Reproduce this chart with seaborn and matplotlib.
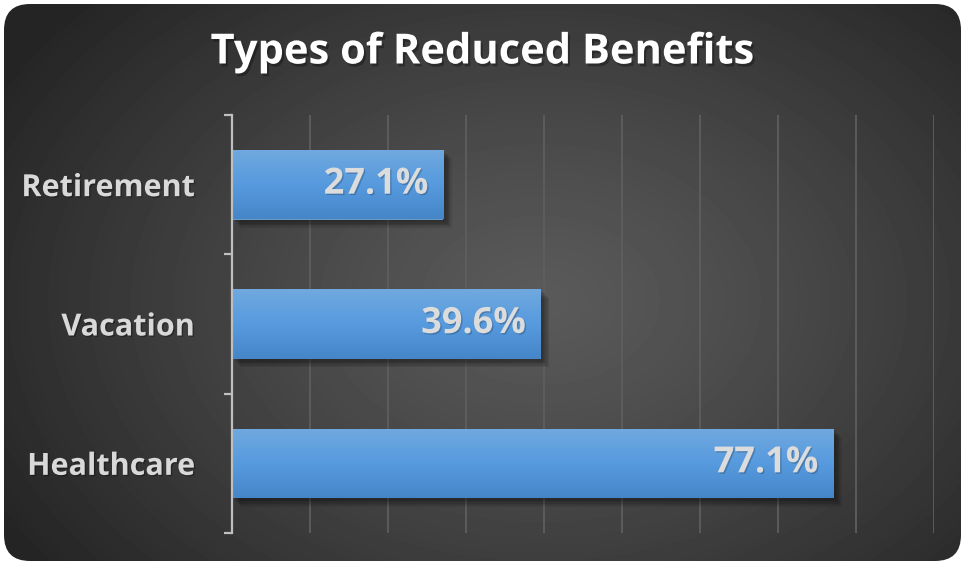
import numpy as np
import pandas as pd
import seaborn as sns
import matplotlib.pyplot as plt
import matplotlib.patheffects as pe
from matplotlib.patches import FancyBboxPatch
from matplotlib.colors import LinearSegmentedColormap

# data
benefits = ['Retirement', 'Vacation', 'Healthcare']
shares = [27.1, 39.6, 77.1]
df = pd.DataFrame({'benefit': benefits, 'share': shares})

sns.set_theme(style='dark')
plt.rcParams['font.family'] = ['Open Sans', 'DejaVu Sans']

W, H = 965, 565
fig = plt.figure(figsize=(W / 100, H / 100), dpi=100)
fig.patch.set_facecolor('white')

# dark radial background with rounded corners
bg = fig.add_axes([0, 0, 1, 1])
bg.set_xlim(0, W)
bg.set_ylim(H, 0)
bg.axis('off')
yy, xx = np.mgrid[0:H, 0:W]
r = np.clip(np.hypot((xx - 540) / 620, (yy - 300) / 440), 0, 1)
shade = (0x5a - (0x5a - 0x25) * r ** 1.2) / 255
img = bg.imshow(shade, cmap='gray', vmin=0, vmax=1, extent=[0, W, H, 0], aspect='auto')
box = FancyBboxPatch((4, 4), W - 8, H - 8, boxstyle='round,pad=0,rounding_size=26',
                     facecolor='none', edgecolor='none')
bg.add_patch(box)
img.set_clip_path(box)

# main axes
ax = fig.add_axes([232 / W, 1 - 533 / H, (934 - 232) / W, (533 - 115) / H])
ax.patch.set_alpha(0)
sns.barplot(data=df, x='share', y='benefit', order=benefits, width=0.5, ax=ax,
            color='#5b9bd5', linewidth=0, zorder=3)
ax.set_xlim(0, 90)
ax.set_ylim(2.5, -0.5)
ax.set_xticks(np.arange(0, 91, 10))
ax.xaxis.grid(True, color='#5e5e5e', linewidth=1.3)
ax.yaxis.grid(False)
ax.set_xlabel('')
ax.set_ylabel('')
ax.tick_params(axis='x', length=0, labelbottom=False)
ax.tick_params(axis='y', which='major', left=False, pad=21, labelsize=22,
               labelcolor='#d9d9d9')
for lbl in ax.get_yticklabels():
    lbl.set_fontweight('bold')
    lbl.set_path_effects([pe.SimplePatchShadow(offset=(1, -1), shadow_rgbFace='black', alpha=0.3),
                          pe.Normal()])
ax.set_yticks([-0.5, 0.5, 1.5, 2.5], minor=True)
ax.tick_params(axis='y', which='minor', left=True, length=6, width=1.6, color='#bfbfbf',
               direction='out')
for side in ['top', 'right', 'bottom']:
    ax.spines[side].set_visible(False)
ax.spines['left'].set_color('#bfbfbf')
ax.spines['left'].set_linewidth(1.6)
ax.spines['left'].set_zorder(5)

# gradient fill + soft shadow on bars
bar_cmap = LinearSegmentedColormap.from_list('bar', ['#70a9df', '#579ade', '#4586c8'])
grad = np.linspace(0, 1, 100).reshape(-1, 1)
soft = [pe.SimplePatchShadow(offset=(2 + k, -2 - k), shadow_rgbFace='black', alpha=0.09)
        for k in range(5)]
for p in ax.patches:
    p.set_path_effects(soft + [pe.Normal()])
    x0, y0 = p.get_x(), p.get_y()
    w, h = p.get_width(), p.get_height()
    gi = ax.imshow(grad, cmap=bar_cmap, extent=[x0, x0 + w, y0 + h, y0], origin='upper',
                   aspect='auto', zorder=4)
    gi.set_clip_path(p)
ax.set_xlim(0, 90)
ax.set_ylim(2.5, -0.5)

# value labels
for i, v in enumerate(shares):
    ax.text(v - 1.9, i, f'{v}%', ha='right', va='center', fontsize=26, fontweight='bold',
            color='#dcdcdc', zorder=6,
            path_effects=[pe.SimplePatchShadow(offset=(1, -1), shadow_rgbFace='black', alpha=0.2),
                          pe.Normal()])

fig.text(0.5, 1 - 53 / H, 'Types of Reduced Benefits', ha='center', va='center',
         fontsize=30, fontweight='bold', color='white',
         path_effects=[pe.SimplePatchShadow(offset=(1.5, -2), shadow_rgbFace='black', alpha=0.3),
                       pe.Normal()])

fig.savefig('out.png', dpi=100)
